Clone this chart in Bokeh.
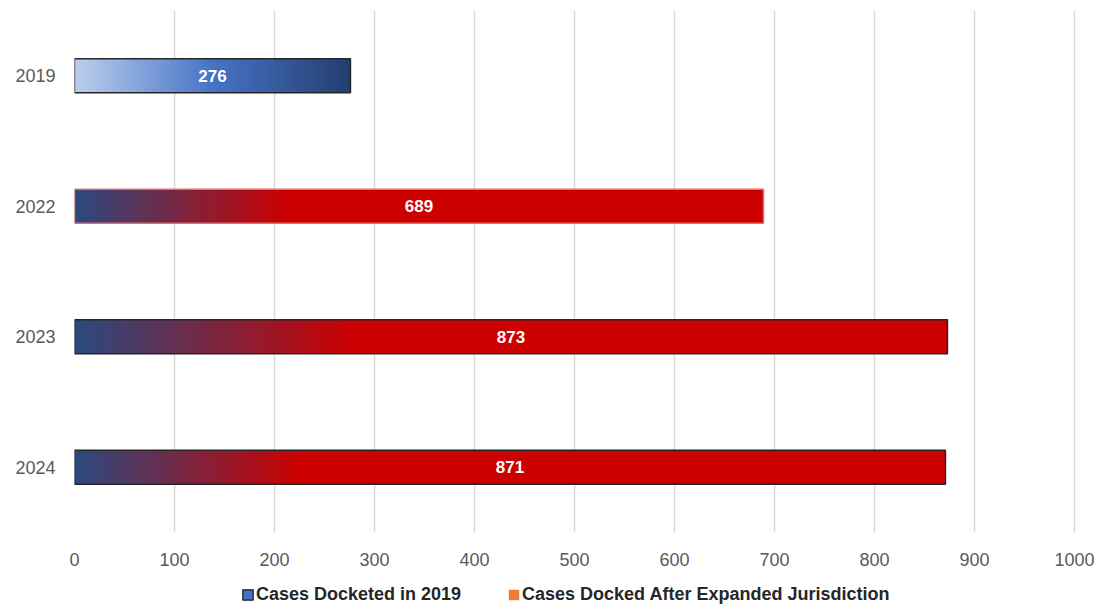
from bokeh.plotting import figure
from bokeh.layouts import column
from bokeh.models import FactorRange, FixedTicker, Legend, LegendItem, ColumnDataSource
from bokeh.core.properties import value
from bokeh.embed import file_html
from bokeh.resources import INLINE

# ---- data ----
years = ["2019", "2022", "2023", "2024"]
cases = [276, 689, 873, 871]
x_ticks = [0, 100, 200, 300, 400, 500, 600, 700, 800, 900, 1000]
legend_labels = ["Cases Docketed in 2019", "Cases Docked After Expanded Jurisdiction"]

# ---- style ----
blue_stops = [(0.0, "#bccfee"), (0.5, "#4773c6"), (1.0, "#243f6f")]
red_end_frac = {"2022": 0.31, "2023": 0.32, "2024": 0.26}
navy = "#2a4a80"
red = "#cc0000"


def hex_rgb(h):
    h = h.lstrip("#")
    return tuple(int(h[i:i + 2], 16) for i in (0, 2, 4))


def blend(c1, c2, t):
    a, b = hex_rgb(c1), hex_rgb(c2)
    return "#%02x%02x%02x" % tuple(round(a[i] + (b[i] - a[i]) * t) for i in range(3))


def color_at(stops, f):
    for (f0, c0), (f1, c1) in zip(stops, stops[1:]):
        if f <= f1:
            return blend(c0, c1, (f - f0) / (f1 - f0) if f1 > f0 else 0)
    return stops[-1][1]


p = figure(width=1098, height=577, y_range=FactorRange(factors=years[::-1]),
           x_range=(0, 1001), output_backend="svg", toolbar_location=None,
           min_border_left=74, min_border_right=23, min_border_top=10,
           min_border_bottom=45, background_fill_color="white",
           border_fill_color="white", outline_line_color=None)

BAR_H = 0.26
N = 160
seg = dict(y=[], left=[], right=[], color=[])
for yr, v in zip(years, cases):
    if yr == "2019":
        stops = blue_stops
    else:
        e = red_end_frac[yr]
        stops = [(0.0, navy), (e, red), (1.0, red)]
    step = v / N
    for i in range(N):
        f = (i + 0.5) / N
        seg["y"].append(yr)
        seg["left"].append(i * step)
        seg["right"].append(min(v, (i + 1.6) * step))
        seg["color"].append(color_at(stops, f))

p.hbar(y="y", left="left", right="right", height=BAR_H, fill_color="color",
       line_color=None, source=ColumnDataSource(seg))

outline_colors = ["#262626", "#e86a6a", "#262626", "#262626"]
p.hbar(y=years, left=0, right=cases, height=BAR_H, fill_color=None,
       line_color=outline_colors, line_width=1.4)

p.text(x=[c / 2 for c in cases], y=years, text=[str(c) for c in cases],
       text_align="center", text_baseline="middle", text_color="white",
       text_font=value("Liberation Sans"), text_font_style="bold",
       text_font_size="17px")

# axes
p.xaxis.ticker = FixedTicker(ticks=x_ticks)
for ax in (p.xaxis[0], p.yaxis[0]):
    ax.axis_line_color = None
    ax.major_tick_line_color = None
    ax.minor_tick_line_color = None
    ax.major_tick_out = 0
    ax.major_tick_in = 0
    ax.minor_tick_out = 0
    ax.major_label_text_color = "#595959"
    ax.major_label_text_font = "Liberation Sans"
    ax.major_label_text_font_size = "18px"
p.xaxis.major_label_standoff = 20
p.yaxis.major_label_standoff = 19

p.xgrid.grid_line_color = "#d9d9d9"
p.xgrid.grid_line_width = 1.5
p.xgrid.ticker = FixedTicker(ticks=x_ticks)
p.ygrid.grid_line_color = None

# legend in a slim strip below
lf = figure(width=1098, height=30, output_backend="svg", toolbar_location=None,
            x_range=(0, 1), y_range=(0, 1), min_border=0,
            x_axis_location=None, y_axis_location=None,
            background_fill_color="white", border_fill_color="white",
            outline_line_color=None)
lf.grid.visible = False
r1 = lf.quad(left=[5], right=[6], top=[5], bottom=[6], fill_color="#4472c4",
             line_color="#1a1a1a", line_width=1.2)
r2 = lf.quad(left=[5], right=[6], top=[5], bottom=[6], fill_color="#ed7d31",
             line_color=None)
for lbl, r, x0 in [(legend_labels[0], r1, 167), (legend_labels[1], r2, 433)]:
    lg = Legend(items=[LegendItem(label=lbl, renderers=[r])], location=(x0, 2),
                orientation="horizontal", border_line_color=None,
                background_fill_alpha=0, padding=0, margin=0,
                glyph_width=13, glyph_height=13, label_standoff=2,
                label_text_font="Liberation Sans", label_text_font_style="bold",
                label_text_font_size="18px", label_text_color="#262626",
                label_height=20)
    lf.add_layout(lg, "center")

layout = column(p, lf, spacing=0)
open("out.html", "w").write(file_html(layout, INLINE))
